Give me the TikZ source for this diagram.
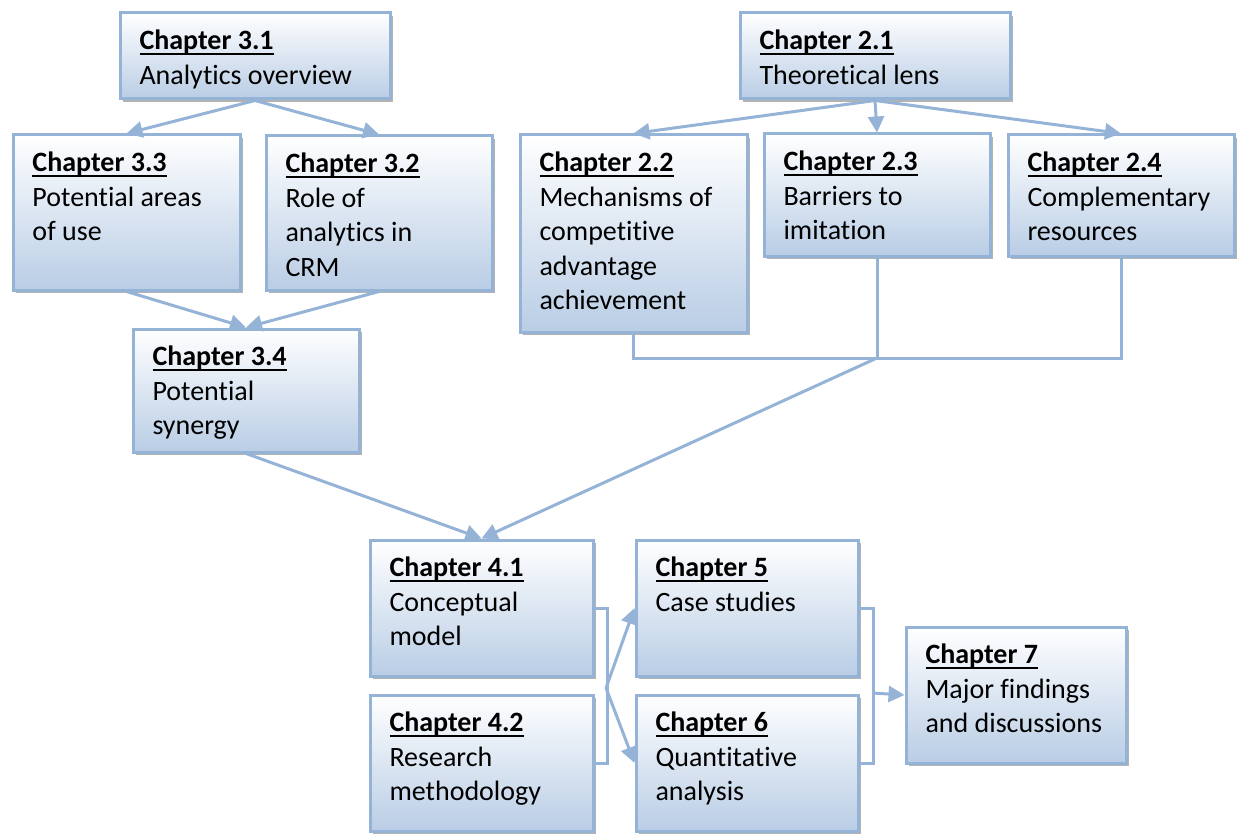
\documentclass[tikz,border=0pt]{standalone}
\usepackage{fontspec}
\setmainfont{Carlito}[Ligatures=NoCommon]
\usetikzlibrary{arrows.meta,shadows}

\definecolor{linkblue}{HTML}{95B3D7}
\definecolor{boxblue}{HTML}{B9CDE5}

\newsavebox{\headbox}
\newcommand{\chaphead}[1]{\sbox{\headbox}{\textbf{#1}}\rlap{\rule[-2.8pt]{\wd\headbox}{0.9pt}}\usebox{\headbox}}
% width and height in pixels of the reference
\newcommand{\chap}[4]{\parbox[c][\dimexpr#2pt/2-14pt\relax][t]{\dimexpr#1pt/2-21pt\relax}{\raggedright\hyphenpenalty=10000\strut\chaphead{#3}\\#4}}

\tikzset{
  chapbox/.style={draw=linkblue, line width=1.5pt, top color=white, bottom color=boxblue,
    inner xsep=9.75pt, inner ysep=6.25pt, anchor=north west, xshift=0.75pt, yshift=-0.75pt,
    font=\fontsize{14}{17.25}\selectfont,
    drop shadow={shadow xshift=1.5pt, shadow yshift=-1.5pt, fill=gray, opacity=0.6}},
  link/.style={draw=linkblue, line width=1.5pt},
  linkarrow/.style={link, -{Triangle[length=8pt,width=8pt]}}
}

\begin{document}
\begin{tikzpicture}[x=0.5pt,y=-0.5pt]
    \useasboundingbox (0,0) rectangle (1241,834);
    % chapter 3 branch
    \node[chapbox] (c31) at (117,10) {\chap{273}{89}{Chapter 3.1}{Analytics overview}};
    \node[chapbox] (c33) at (10,132) {\chap{230}{158}{Chapter 3.3}{Potential areas\\of use}};
    \node[chapbox] (c32) at (263,133) {\chap{229}{157}{Chapter 3.2}{Role of\\analytics in\\CRM}};
    \node[chapbox] (c34) at (130,326) {\chap{229}{126}{Chapter 3.4}{Potential\\synergy}};
    % chapter 2 branch
    \node[chapbox] (c21) at (737,10) {\chap{273}{89}{Chapter 2.1}{Theoretical lens}};
    \node[chapbox] (c22) at (517,132) {\chap{230}{200}{Chapter 2.2}{Mechanisms of\\competitive\\advantage\\achievement}};
    \node[chapbox] (c23) at (761,131) {\chap{229}{125}{Chapter 2.3}{Barriers to\\imitation}};
    \node[chapbox] (c24) at (1005,132) {\chap{229}{124}{Chapter 2.4}{Complementary\\resources}};
    % chapters 4 to 7
    \node[chapbox] (c41) at (367,537) {\chap{226}{139}{Chapter 4.1}{Conceptual\\model}};
    \node[chapbox] (c42) at (367,692) {\chap{226}{139}{Chapter 4.2}{Research\\methodology}};
    \node[chapbox] (c5) at (633,537) {\chap{225}{139}{Chapter 5}{Case studies}};
    \node[chapbox] (c6) at (633,692) {\chap{225}{139}{Chapter 6}{Quantitative\\analysis}};
    \node[chapbox] (c7) at (903,624) {\chap{223}{139}{Chapter 7}{Major findings\\and discussions}};

    \draw[linkarrow] (c31.south) -- (c33.north);
    \draw[linkarrow] (c31.south) -- (c32.north);
    \draw[linkarrow] (c33.south) -- (c34.north);
    \draw[linkarrow] (c32.south) -- (c34.north);
    \draw[linkarrow] (c21.south) -- (c22.north);
    \draw[linkarrow] (c21.south) -- (c23.north);
    \draw[linkarrow] (c21.south) -- (c24.north);

    \coordinate (join2) at (c23.south |- 0,358);
    \draw[link] (c22.south) |- (join2) -| (c24.south);
    \draw[link] (c23.south) -- (join2);
    \draw[linkarrow] (join2) -- (c41.north);
    \draw[linkarrow] (c34.south) -- (c41.north);

    \draw[link] (c41.east) -- ++(13,0) |- (c42.east);
    \coordinate (fork4) at (606,688);
    \draw[linkarrow] (fork4) -- (c5.west);
    \draw[linkarrow] (fork4) -- (c6.west);

    \draw[link] (c5.east) -- ++(14,0) |- (c6.east);
    \coordinate (fork5) at (872,693);
    \draw[linkarrow] (fork5) -- (c7.west);
\end{tikzpicture}
\end{document}
